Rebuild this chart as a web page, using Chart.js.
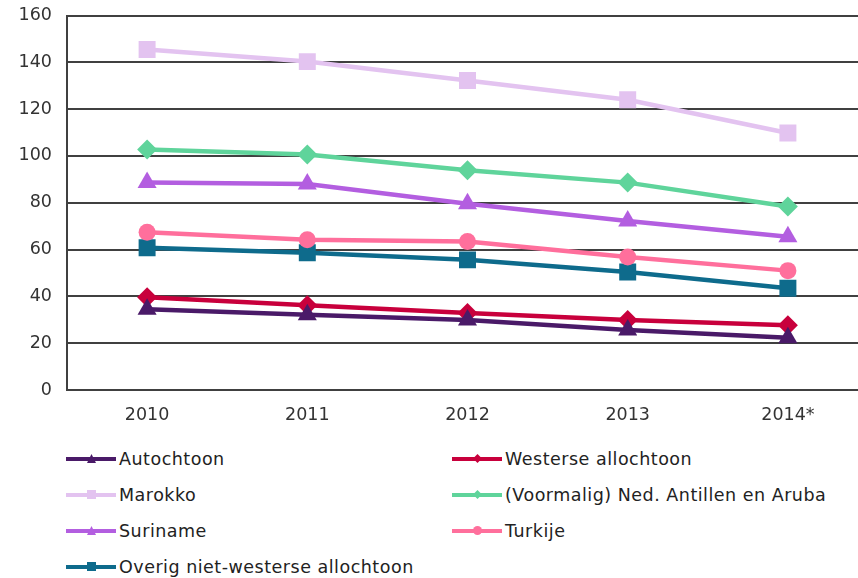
<!DOCTYPE html>
<html>
<head>
<meta charset="utf-8">
<script src="https://cdn.jsdelivr.net/npm/chart.js@4/dist/chart.umd.min.js"></script>
<style>
  html, body { margin: 0; padding: 0; background: #fff; overflow: hidden; }
  #wrap { position: relative; width: 858px; height: 578px; overflow: hidden; }
  #chart { position: absolute; left: 0; top: -10px; }
  #legend { position: absolute; left: 0; top: 0; font-family: "DejaVu Sans", Verdana, sans-serif; font-size: 17.5px; letter-spacing: 0.5px; color: #222; }
  .item { position: absolute; display: flex; align-items: center; height: 24px; white-space: nowrap; }
  .sample { position: relative; width: 50px; height: 4px; margin-right: 3px; }
  .mark { position: absolute; left: 21px; top: -3px; width: 9px; height: 9px; }
</style>
</head>
<body>
<div id="wrap">
  <canvas id="chart" width="880" height="440"></canvas>
  <div id="legend"></div>
</div>
<script>
/* DATA */
const years = ["2010", "2011", "2012", "2013", "2014*"];
const yTicks = [0, 20, 40, 60, 80, 100, 120, 140, 160];

const autochtoon = [34.5, 32.2, 29.9, 25.6, 22.3];
const westerse = [39.6, 36.2, 32.9, 29.9, 27.7];
const marokko = [145.5, 140.3, 132.2, 124.0, 109.8];
const antillen = [102.8, 100.6, 93.9, 88.6, 78.4];
const suriname = [88.6, 88.0, 79.6, 72.2, 65.5];
const turkije = [67.4, 64.2, 63.4, 56.8, 51.0];
const overig = [60.8, 58.6, 55.6, 50.4, 43.5];

const series = [
  { label: "Autochtoon", data: autochtoon, color: "#4a1a68", shape: "triangle" },
  { label: "Westerse allochtoon", data: westerse, color: "#c8003c", shape: "rectRot" },
  { label: "Marokko", data: marokko, color: "#e3c3f0", shape: "rect" },
  { label: "(Voormalig) Ned. Antillen en Aruba", data: antillen, color: "#5fd49b", shape: "rectRot" },
  { label: "Suriname", data: suriname, color: "#b35ee0", shape: "triangle" },
  { label: "Turkije", data: turkije, color: "#ff6f9c", shape: "circle" },
  { label: "Overig niet-westerse allochtoon", data: overig, color: "#0e6b8c", shape: "rect" }
];

const radius = { triangle: 11, rectRot: 10, rect: 12, circle: 8.5 };

/* CHART */
const chart = new Chart(document.getElementById("chart"), {
  type: "line",
  data: {
    labels: years,
    datasets: series.map(s => ({
      label: s.label,
      data: s.data,
      borderColor: s.color,
      backgroundColor: s.color,
      borderWidth: 4.5,
      pointStyle: s.shape,
      pointRadius: radius[s.shape],
      pointBorderWidth: 0,
      tension: 0
    }))
  },
  options: {
    responsive: false,
    animation: false,
    layout: { padding: { top: 5, right: 0, left: 0, bottom: 0 } },
    plugins: { legend: { display: false }, tooltip: { enabled: false } },
    scales: {
      x: {
        offset: true,
        grid: { display: false, drawTicks: false },
        border: { display: false },
        ticks: { color: "#333", font: { family: "DejaVu Sans", size: 17.5 }, padding: 15 },
        afterFit: s => { s.height = 40; }
      },
      y: {
        min: 0,
        max: 160,
        afterBuildTicks: s => { s.ticks = yTicks.map(v => ({ value: v })); },
        grid: { color: "#404040", lineWidth: 2, drawTicks: false },
        border: { display: true, color: "#404040", width: 2 },
        ticks: { color: "#333", font: { family: "DejaVu Sans", size: 17.5 }, padding: 15 },
        afterFit: s => { s.width = 67; }
      }
    }
  }
});

/* LEGEND */
const clip = {
  triangle: "polygon(50% 0, 100% 100%, 0 100%)",
  rectRot: "polygon(50% 0, 100% 50%, 50% 100%, 0 50%)",
  rect: "none",
  circle: "circle(50%)"
};
const legend = document.getElementById("legend");
series.forEach((s, i) => {
  const col = i % 2, row = Math.floor(i / 2);
  const item = document.createElement("div");
  item.className = "item";
  item.style.left = (col ? 452 : 66) + "px";
  item.style.top = (447 + row * 36) + "px";
  item.innerHTML = `<span class="sample" style="background:${s.color}">
      <span class="mark" style="background:${s.color};clip-path:${clip[s.shape]}"></span>
    </span><span>${s.label}</span>`;
  legend.appendChild(item);
});
</script>
</body>
</html>
